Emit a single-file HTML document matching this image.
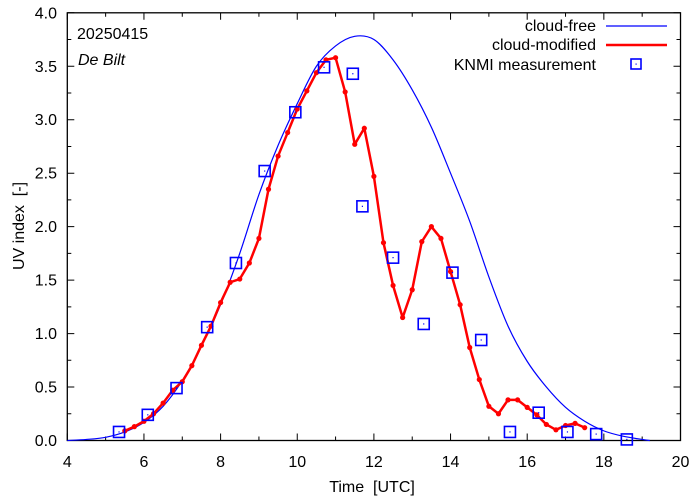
<!DOCTYPE html>
<html><head><meta charset="utf-8"><style>
body{margin:0;background:#fff}
svg{display:block;font-family:"Liberation Sans",sans-serif}
</style></head><body>
<svg id="chart" width="694" height="501" viewBox="0 0 694 501">
<g id="axes"></g>
<g id="series"></g>
<text x="77" y="39" font-size="16">20250415</text>
<text x="78" y="65" font-size="16" font-style="italic">De Bilt</text>
<g font-size="16">
 <g><text x="596" y="31" text-anchor="end">cloud-free</text><line x1="606" y1="26" x2="667" y2="26" stroke="#0000ff" stroke-width="1.2"/></g>
 <g><text x="596" y="50" text-anchor="end">cloud-modified</text><line x1="606" y1="45" x2="667" y2="45" stroke="#ff0000" stroke-width="2.5"/></g>
 <g><text x="596" y="70" text-anchor="end">KNMI measurement</text><rect x="631" y="59" width="10" height="10" fill="none" stroke="#0000ff" stroke-width="1.6"/><rect x="635.5" y="63.5" width="1.2" height="1.2" fill="#0000ff"/></g>
</g>
<text x="372" y="492" font-size="16" text-anchor="middle">Time&#160;&#160;[UTC]</text>
<text transform="translate(24,226) rotate(-90)" font-size="16" text-anchor="middle">UV index&#160;&#160;[-]</text>
</svg>
<script>
const xTicks=[4,6,8,10,12,14,16,18,20];
const yTicks=[0,0.5,1.0,1.5,2.0,2.5,3.0,3.5,4.0];
const clearTimes=[4.0,4.5,5.0,5.5,6.0,6.5,7.0,7.5,8.0,8.5,9.0,9.5,10.0,10.5,11.0,11.5,12.0,12.5,13.0,13.5,14.0,14.5,15.0,15.5,16.0,16.5,17.0,17.5,18.0,18.5,19.0,19.2];
const clearUV=[0,0.01,0.03,0.08,0.17,0.32,0.56,0.88,1.27,1.75,2.3,2.76,3.15,3.5,3.69,3.78,3.75,3.56,3.28,2.93,2.5,2.05,1.53,1.07,0.74,0.5,0.31,0.18,0.09,0.04,0.01,0];
const cloudTimes=[5.5,5.75,6.0,6.25,6.5,6.75,7.0,7.25,7.5,7.75,8.0,8.25,8.5,8.75,9.0,9.25,9.5,9.75,10.0,10.25,10.5,10.75,11.0,11.25,11.5,11.75,12.0,12.25,12.5,12.75,13.0,13.25,13.5,13.75,14.0,14.25,14.5,14.75,15.0,15.25,15.5,15.75,16.0,16.25,16.5,16.75,17.0,17.25,17.5];
const cloudUV=[0.09,0.13,0.18,0.25,0.35,0.47,0.55,0.7,0.89,1.07,1.29,1.48,1.51,1.66,1.89,2.35,2.66,2.88,3.1,3.27,3.44,3.56,3.58,3.26,2.77,2.92,2.47,1.85,1.45,1.15,1.41,1.86,2.0,1.89,1.58,1.27,0.87,0.57,0.32,0.25,0.38,0.38,0.31,0.24,0.15,0.10,0.14,0.16,0.12];
const measTimes=[5.35,6.1,6.85,7.65,8.4,9.15,9.95,10.7,11.45,11.7,12.5,13.3,14.05,14.8,15.55,16.3,17.05,17.8,18.6];
const measUV=[0.08,0.24,0.49,1.06,1.66,2.52,3.07,3.49,3.43,2.19,1.71,1.09,1.57,0.94,0.08,0.26,0.08,0.06,0.01];

const X0=67.3,X1=680.5,Y0=440.5,Y1=12.8;
const sx=v=>X0+(v-4)/16*(X1-X0);
const sy=v=>Y0-v/4*(Y0-Y1);
const NS='http://www.w3.org/2000/svg';
function mk(tag,attrs,parent){const e=document.createElementNS(NS,tag);for(const k in attrs)e.setAttribute(k,attrs[k]);parent.appendChild(e);return e;}
const axes=document.getElementById('axes'),series=document.getElementById('series');
const frame=mk('rect',{x:X0,y:Y1,width:X1-X0,height:Y0-Y1,fill:'none',stroke:'#000','stroke-width':1.3},axes);


let tp='';
for(let v=4;v<=20;v+=1){const x=sx(v),L=(v%2===0)?7:4;tp+=`M${x},${Y0}v${-L}M${x},${Y1}v${L}`;}
for(let v=0;v<=4.001;v+=0.25){const y=sy(v),L=(Math.round(v*4)%2===0)?7:4;tp+=`M${X0},${y}h${L}M${X1},${y}h${-L}`;}
const ticks=mk('path',{d:tp,stroke:'#000','stroke-width':1,fill:'none'},axes);


xTicks.forEach(v=>{const t=mk('text',{x:sx(v),y:467,'font-size':16,'text-anchor':'middle'},axes);t.textContent=v;

});
yTicks.forEach(v=>{const t=mk('text',{x:57,y:sy(v)+5.5,'font-size':16,'text-anchor':'end'},axes);t.textContent=v.toFixed(1);

});
const P=clearTimes.map((t,i)=>[sx(t),sy(clearUV[i])]);
let d=`M${P[0][0]},${P[0][1]}`;
for(let i=0;i<P.length-1;i++){const p0=P[Math.max(0,i-1)],p1=P[i],p2=P[i+1],p3=P[Math.min(P.length-1,i+2)];
d+=`C${p1[0]+(p2[0]-p0[0])/6},${p1[1]+(p2[1]-p0[1])/6} ${p2[0]-(p3[0]-p1[0])/6},${p2[1]-(p3[1]-p1[1])/6} ${p2[0]},${p2[1]}`;}
const cf=mk('path',{d:d,stroke:'#0000ff','stroke-width':1.2,fill:'none'},series);


const cm=mk('polyline',{points:cloudTimes.map((t,i)=>sx(t)+','+sy(cloudUV[i])).join(' '),stroke:'#ff0000','stroke-width':2.5,fill:'none','stroke-linejoin':'round'},series);


cloudTimes.forEach((t,i)=>{const c=mk('circle',{cx:sx(t),cy:sy(cloudUV[i]),r:2.6,fill:'#ff0000'},series);

});
measTimes.forEach((t,i)=>{const g=mk('g',{},series);


mk('rect',{x:sx(t)-5.5,y:sy(measUV[i])-5.5,width:11,height:11,fill:'none',stroke:'#0000ff','stroke-width':1.6},g);
mk('rect',{x:sx(t)-0.6,y:sy(measUV[i])-0.6,width:1.2,height:1.2,fill:'#0000ff'},g);});
</script>
</body></html>
